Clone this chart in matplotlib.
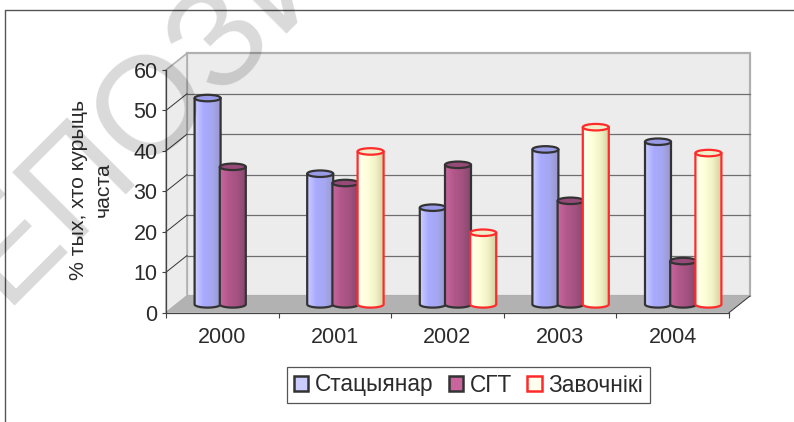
import numpy as np
import matplotlib
matplotlib.use('Agg')
import matplotlib.pyplot as plt
from matplotlib.colors import LinearSegmentedColormap
from matplotlib.lines import Line2D
from matplotlib.patches import Ellipse, Patch, PathPatch, Polygon
from matplotlib.path import Path

plt.rcParams['font.family'] = ['Liberation Sans', 'DejaVu Sans']

########
# data #
########

years = ['2000', '2001', '2002', '2003', '2004']
statsyianar = [51, 32.3, 23.9, 38.3, 40.2]
sgt = [34, 30, 34.5, 25.6, 10.7]
zavochniki = [None, 37.8, 17.7, 43.8, 37.4]

series_names = ['Стацыянар', 'СГТ', 'Завочнікі']
y_ticks = [0, 10, 20, 30, 40, 50, 60]
y_label = '% тых, хто курыць\nчаста'
watermark = 'РЕПОЗИТОРИЙ'

#########
# setup #
#########

W, H = 794, 422
TEXT = '#2b2b2b'
DARK = '#333333'

fig = plt.figure(figsize=(W / 100, H / 100), dpi=100)
# the axes box is the front plane of the fake 3d chart
ax = fig.add_axes([166 / W, 1 - 312.7 / H, 563 / W, 242.7 / H])
ax.set_xlim(-0.5, 4.5)
ax.set_ylim(0, 60)
ax.patch.set_visible(False)

px_x = 5 / 563          # data units per pixel
px_y = 60 / 242.7
depth_x = 21 * px_x
depth_y = 16.7 * px_y

##########
# walls  #
##########

x0, x1 = -0.5, 4.5
ax.add_patch(Polygon([(x0 + depth_x, depth_y), (x1 + depth_x, depth_y),
                      (x1 + depth_x, 60 + depth_y), (x0 + depth_x, 60 + depth_y)],
                     closed=True, fc='#ececec', ec='#b0b0b0', lw=1.6, zorder=1, clip_on=False))
ax.add_patch(Polygon([(x0, 0), (x0 + depth_x, depth_y), (x0 + depth_x, 60 + depth_y), (x0, 60)],
                     closed=True, fc='#ececec', ec='#b0b0b0', lw=1.2, zorder=1, clip_on=False))
ax.add_patch(Polygon([(x0, 0), (x1, 0), (x1 + depth_x, depth_y), (x0 + depth_x, depth_y)],
                     closed=True, fc='#b2b2b2', ec='none', zorder=1.5, clip_on=False))

for v in y_ticks[1:-1]:
    ax.plot([x0 + depth_x, x1 + depth_x], [v + depth_y, v + depth_y],
            color='#6e6e6e', lw=0.9, zorder=2, clip_on=False)
    ax.plot([x0, x0 + depth_x], [v, v + depth_y], color=DARK, lw=0.7, zorder=2, clip_on=False)
ax.plot([x1, x1 + depth_x], [0, depth_y], color=DARK, lw=0.7, zorder=2, clip_on=False)

#############
# cylinders #
#############

bar_w = 26 * px_x
step = 25.2 * px_x
ell_h = 6.5 * px_y
edge_lw = 1.6

styles = [
    (['#cccdff', '#a9aaff', '#a6a7f0', '#9899cc'], '#9a9be6', DARK),
    (['#c9659c', '#b2588c', '#a4527f', '#874770'], '#964a78', DARK),
    (['#ffffee', '#ffffdc', '#f3f3c8', '#d2d2a4'], '#efeecb', '#ff2b2b'),
]
all_series = [statsyianar, sgt, zavochniki]


def draw_cylinder(xc, value, colors, top_color, edge, z):
    left, right = xc - bar_w / 2, xc + bar_w / 2
    base, top = depth_y / 2, value + depth_y / 2
    t = np.linspace(np.pi, 2 * np.pi, 40)
    bx = xc + bar_w / 2 * np.cos(t)
    by = base + ell_h / 2 * np.sin(t)
    verts = np.vstack([[(left, top)], np.column_stack([bx, by]), [(right, top)], [(left, top)]])
    body = Path(verts, closed=False)
    patch = PathPatch(body, fc='none', ec=edge, lw=edge_lw, zorder=z + 0.2, clip_on=False,
                      joinstyle='round')
    ax.add_patch(patch)
    cmap = LinearSegmentedColormap.from_list('cyl', colors)
    img = ax.imshow(np.linspace(0, 1, 64).reshape(1, -1), cmap=cmap, aspect='auto',
                    extent=(left, right, base - ell_h, top), zorder=z, interpolation='bilinear')
    img.set_clip_path(PathPatch(body, transform=ax.transData))
    ax.add_patch(Ellipse((xc, top), bar_w, ell_h, fc=top_color, ec=edge, lw=edge_lw,
                         zorder=z + 0.3, clip_on=False))


for s, values in enumerate(all_series):
    colors, top_color, edge = styles[s]
    for i, value in enumerate(values):
        if value is None:
            continue
        xc = i + depth_x / 2 + (s - 1) * step
        draw_cylinder(xc, value, colors, top_color, edge, 3 + s)

ax.set_xlim(-0.5, 4.5)
ax.set_ylim(0, 60)

##################
# axes and text  #
##################

for name in ['top', 'right']:
    ax.spines[name].set_visible(False)
for name in ['left', 'bottom']:
    ax.spines[name].set_color('#444444')
    ax.spines[name].set_linewidth(0.9)
    ax.spines[name].set_zorder(2.5)

ax.set_yticks(y_ticks)
ax.set_xticks(range(len(years)))
ax.set_xticklabels(years)
ax.set_xticks(np.arange(-0.5, 5), minor=True)
ax.tick_params(axis='x', which='major', length=0, pad=10, labelsize=15.5, labelcolor=TEXT)
ax.tick_params(axis='x', which='minor', length=3.5, width=0.8, color='#444444')
ax.tick_params(axis='y', length=3, width=0.8, color='#444444', pad=3, labelsize=15.5, labelcolor=TEXT)

fig.text(91 / W, 1 - 190 / H, y_label, rotation=90, ha='center', va='center',
         fontsize=15.3, color=TEXT, linespacing=1.4, multialignment='center')

handles = [Patch(fc=styles[i][0][0], ec=styles[i][2], lw=1.8, label=series_names[i]) for i in range(3)]
leg = fig.legend(handles=handles, ncol=3, loc='center', bbox_to_anchor=(468.5 / W, 1 - 385 / H),
                 fontsize=16.3, frameon=True, fancybox=False, edgecolor='#555555', framealpha=1,
                 handlelength=0.65, handleheight=0.65, handletextpad=0.3, columnspacing=0.65,
                 borderpad=0.3, labelcolor=TEXT)
leg.get_frame().set_linewidth(0.9)

# outer frame, open to the right and the bottom
fig.add_artist(Line2D([4.7 / W, 4.7 / W, 1], [0, 1 - 10 / H, 1 - 10 / H], color='#555555', lw=1.0))

# watermark lies over everything
fig.text(-87 / W, 1 - 345 / H, watermark, rotation=45, rotation_mode='anchor', ha='left', va='center',
         fontsize=100, color='black', alpha=0.15, zorder=20)

fig.savefig('out.png', dpi=100)
